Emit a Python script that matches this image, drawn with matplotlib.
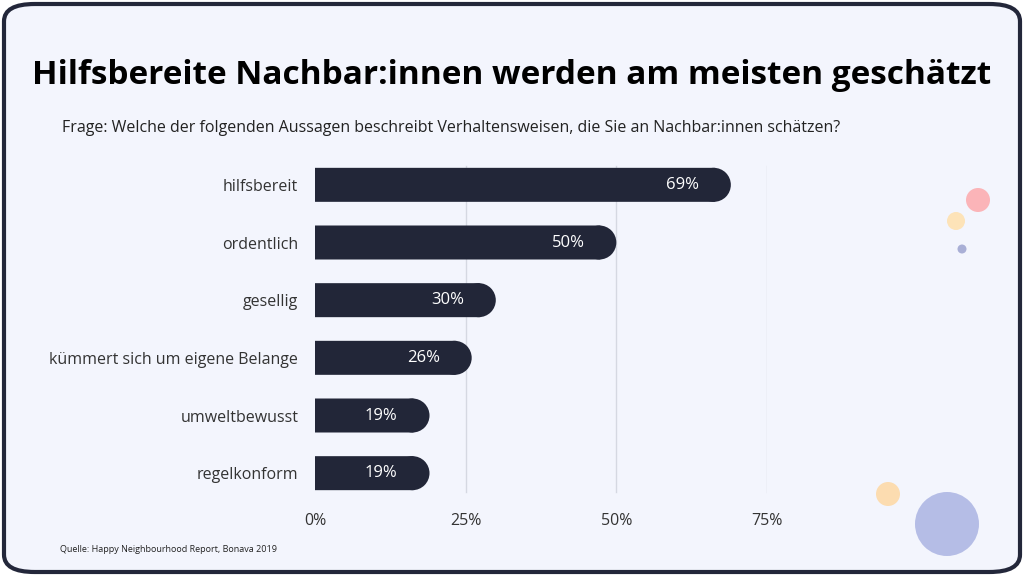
import matplotlib
matplotlib.use("Agg")
import matplotlib.pyplot as plt
from matplotlib.patches import FancyBboxPatch, Rectangle, Ellipse

categories = ["hilfsbereit", "ordentlich", "gesellig", "kümmert sich um eigene Belange", "umweltbewusst", "regelkonform"]
values = [69, 50, 30, 26, 19, 19]
ticks = [0, 25, 50, 75]
tick_labels = ["0%", "25%", "50%", "75%"]

plt.rcParams['font.family'] = ['Open Sans', 'DejaVu Sans']
W, H = 1024, 576
fig = plt.figure(figsize=(W/100, H/100), dpi=100)
fig.patch.set_facecolor('white')
frame = FancyBboxPatch((4/W, 4/H), 1-8/W, 1-8/H, boxstyle="round,pad=0,rounding_size=0.03",
                       transform=fig.transFigure, facecolor='#f3f5fd', edgecolor='#23273a', linewidth=3, zorder=-10)
fig.patches.append(frame)

fig.text(0.5, 1-75/H, "Hilfsbereite Nachbar:innen werden am meisten geschätzt", ha='center', va='center',
         fontsize=24, fontweight='bold', color='black')
fig.text(62/W, 1-128/H, "Frage: Welche der folgenden Aussagen beschreibt Verhaltensweisen, die Sie an Nachbar:innen schätzen?",
         ha='left', va='center', fontsize=11.5, color='#222')
fig.text(60/W, 1-549/H, "Quelle: Happy Neighbourhood Report, Bonava 2019", ha='left', va='center', fontsize=6.5, color='#222')

left, right, top, bottom = 315, 767, 156, 502
ax = fig.add_axes([left/W, 1-bottom/H, (right-left)/W, (bottom-top)/H])
ax.set_facecolor('none')
ax.set_xlim(0, 75)
ax.set_ylim(5.5, -0.5)
xpp = 75/(right-left)
ypp = 6/(bottom-top)
r_px = 17
h = 34*ypp
rx = r_px*xpp
col = '#222638'
for i, v in enumerate(values):
    rect = Rectangle((0, i-h/2), v-rx+1.0*xpp, h, facecolor=col, edgecolor='none', zorder=3)
    rect.set_snap(False)
    ax.add_patch(rect)
    ax.add_patch(Ellipse((v-rx, i), 2*rx, h, facecolor=col, edgecolor='none', zorder=3))
    ax.text(v-8, i, f"{v}%", ha='center', va='center', color='white', fontsize=12, zorder=4)
for t in ticks[1:]:
    ax.axvline(t, ymin=0.03, ymax=0.97, color='#d5d8e2', linewidth=1, zorder=1)
ax.set_xticks(ticks)
ax.set_xticklabels(tick_labels, fontsize=11.5, color='#333')
ax.set_yticks(range(len(categories)))
ax.set_yticklabels(categories, fontsize=11.5, color='#333')
ax.tick_params(length=0, pad=12)
ax.tick_params(axis='x', pad=8)
for s in ax.spines.values():
    s.set_visible(False)

def circ(x, y, r, c, a=1):
    fig.patches.append(Ellipse((x/W, 1-y/H), 2*r/W, 2*r/H, transform=fig.transFigure, facecolor=c, alpha=a, edgecolor='none'))
circ(978, 200, 12, '#fbb4b8')
circ(956, 221, 9, '#fde3b8')
circ(962, 249, 4.5, '#a9afd6')
circ(888, 494, 12, '#fcdcb0')
circ(947, 524, 32, '#b5bde6')
fig.savefig("out.png", dpi=100)
